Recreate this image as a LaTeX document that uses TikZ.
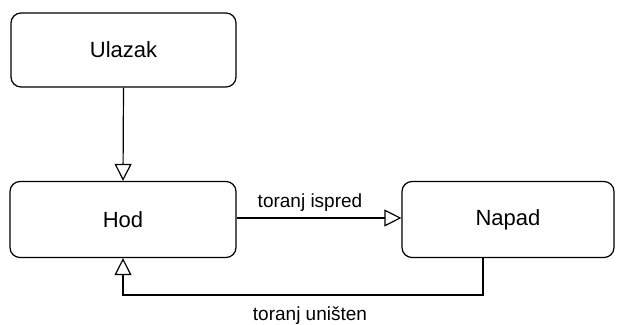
\documentclass[tikz,border=0pt]{standalone}
\usepackage{fontspec}
\setmainfont{Liberation Sans}
\usetikzlibrary{arrows.meta}
\begin{document}
\begin{tikzpicture}[x=1pt,y=-1pt,
  statebox/.style={draw, line width=1.2pt, rounded corners=10pt, fill=white, inner sep=0pt, font=\fontsize{22}{26}\selectfont},
  conn/.style={draw, line width=1.2pt, -{Triangle[open, length=17pt, width=17pt, line width=1.2pt]}},
  lbl/.style={font=\fontsize{19}{22}\selectfont, inner sep=0pt}]
\useasboundingbox (0,0) rectangle (621,324);
\node[statebox, minimum width=225pt, minimum height=74pt] (ulazak) at (123.5,50) {Ulazak};
\node[statebox, minimum width=226pt, minimum height=76pt] (hod) at (123,219.5) {Hod};
\node[statebox, minimum width=212pt, minimum height=76pt] (napad) at (508,219.5) {Napad};
\coordinate (c1) at (483,295);
\coordinate (c2) at (123,295);
\draw[conn] (ulazak.south) -- (hod.north);
\draw[conn] (hod.east |- 0,218) -- (napad.west |- 0,218);
\draw[conn] (napad.south -| c1) -- (c1) -- (c2) -- (hod.south);
\node[lbl] (l1) at (310,203) {toranj ispred};
\node[lbl] (l2) at (310,316) {toranj uništen};
\end{tikzpicture}
\end{document}
